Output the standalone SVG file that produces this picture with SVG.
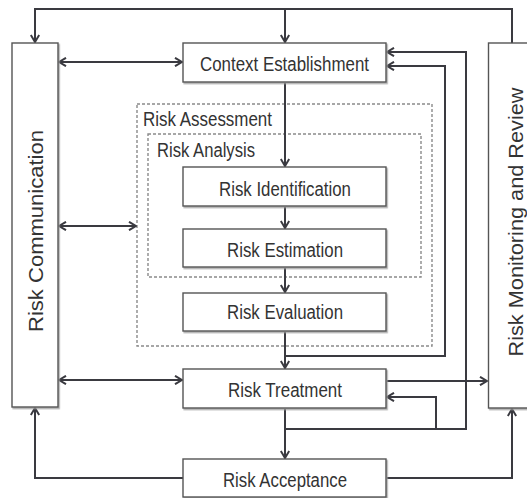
<svg xmlns="http://www.w3.org/2000/svg" width="527" height="498" viewBox="0 0 527 498">
<defs>
<style>
.box{fill:#fff;stroke:#555;stroke-width:1.4;filter:url(#sh)}
.dash{fill:none;stroke:#8a8a8a;stroke-width:1.4;stroke-dasharray:3,2}
.t{font-family:"Liberation Sans",Arial,sans-serif;font-size:20px;fill:#333}
.c{fill:none;stroke:#3a3a40;stroke-width:2}
</style>
<filter id="sh" x="-10%" y="-10%" width="130%" height="130%">
<feDropShadow dx="1.2" dy="1.5" stdDeviation="0.6" flood-color="#999" flood-opacity="0.8"/>
</filter>
<marker id="a" viewBox="0 0 10 10" refX="9" refY="5" markerWidth="10" markerHeight="10" markerUnits="userSpaceOnUse" orient="auto-start-reverse">
<path d="M2,0.8 L9,5 L2,9.2" fill="none" stroke="#3a3a40" stroke-width="2"/>
</marker>
</defs>
<rect width="527" height="498" fill="#fff"/>

<g id="risk-assessment">
<rect class="dash" x="137" y="104" width="295" height="242"/>
<text class="t" x="143" y="126" textLength="129" lengthAdjust="spacingAndGlyphs">Risk Assessment</text>
</g>
<g id="risk-analysis">
<rect class="dash" x="148" y="134" width="273" height="143"/>
<text class="t" x="157" y="157" textLength="98" lengthAdjust="spacingAndGlyphs">Risk Analysis</text>
</g>

<g id="connectors">
<path class="c" d="M512,43 V9 H35 V42" marker-end="url(#a)"/>
<path class="c" d="M285,9 V42" marker-end="url(#a)"/>
<path class="c" d="M59,62 H182" marker-start="url(#a)" marker-end="url(#a)"/>
<path class="c" d="M59,226 H136" marker-start="url(#a)" marker-end="url(#a)"/>
<path class="c" d="M59,380 H182" marker-start="url(#a)" marker-end="url(#a)"/>
<path class="c" d="M285,83 V166" marker-end="url(#a)"/>
<path class="c" d="M285,207 V228" marker-end="url(#a)"/>
<path class="c" d="M285,268 V292" marker-end="url(#a)"/>
<path class="c" d="M285,332 V368" marker-end="url(#a)"/>
<path class="c" d="M285,356 H445 V66 H387" marker-end="url(#a)"/>
<path class="c" d="M285,409 V458" marker-end="url(#a)"/>
<path class="c" d="M285,429 H466 V52 H387" marker-end="url(#a)"/>
<path class="c" d="M436,429 V397 H387" marker-end="url(#a)"/>
<path class="c" d="M387,381 H487" marker-end="url(#a)"/>
<path class="c" d="M183,478 H35 V408" marker-end="url(#a)"/>
<path class="c" d="M387,478 H512 V409" marker-end="url(#a)"/>
</g>

<g id="risk-communication">
<rect class="box" x="12" y="43" width="46" height="364"/>
<text class="t" transform="translate(43,231) rotate(-90)" text-anchor="middle" textLength="202" lengthAdjust="spacingAndGlyphs">Risk Communication</text>
</g>
<g id="risk-monitoring">
<rect class="box" x="488.5" y="43" width="50" height="365"/>
<text class="t" transform="translate(523,222) rotate(-90)" text-anchor="middle" textLength="269" lengthAdjust="spacingAndGlyphs">Risk Monitoring and Review</text>
</g>
<g id="context-establishment">
<rect class="box" x="183" y="43" width="203" height="39"/>
<text class="t" x="284.5" y="71" text-anchor="middle" textLength="169" lengthAdjust="spacingAndGlyphs">Context Establishment</text>
</g>
<g id="risk-identification">
<rect class="box" x="183" y="167" width="203" height="39"/>
<text class="t" x="285" y="196" text-anchor="middle" textLength="132" lengthAdjust="spacingAndGlyphs">Risk Identification</text>
</g>
<g id="risk-estimation">
<rect class="box" x="183" y="229" width="203" height="38"/>
<text class="t" x="285" y="257" text-anchor="middle" textLength="116" lengthAdjust="spacingAndGlyphs">Risk Estimation</text>
</g>
<g id="risk-evaluation">
<rect class="box" x="183" y="293" width="203" height="38"/>
<text class="t" x="285" y="319" text-anchor="middle" textLength="116" lengthAdjust="spacingAndGlyphs">Risk Evaluation</text>
</g>
<g id="risk-treatment">
<rect class="box" x="183" y="369" width="203" height="39"/>
<text class="t" x="285" y="397" text-anchor="middle" textLength="114" lengthAdjust="spacingAndGlyphs">Risk Treatment</text>
</g>
<g id="risk-acceptance">
<rect class="box" x="183" y="459" width="203" height="38"/>
<text class="t" x="285" y="487" text-anchor="middle" textLength="124" lengthAdjust="spacingAndGlyphs">Risk Acceptance</text>
</g>
</svg>
